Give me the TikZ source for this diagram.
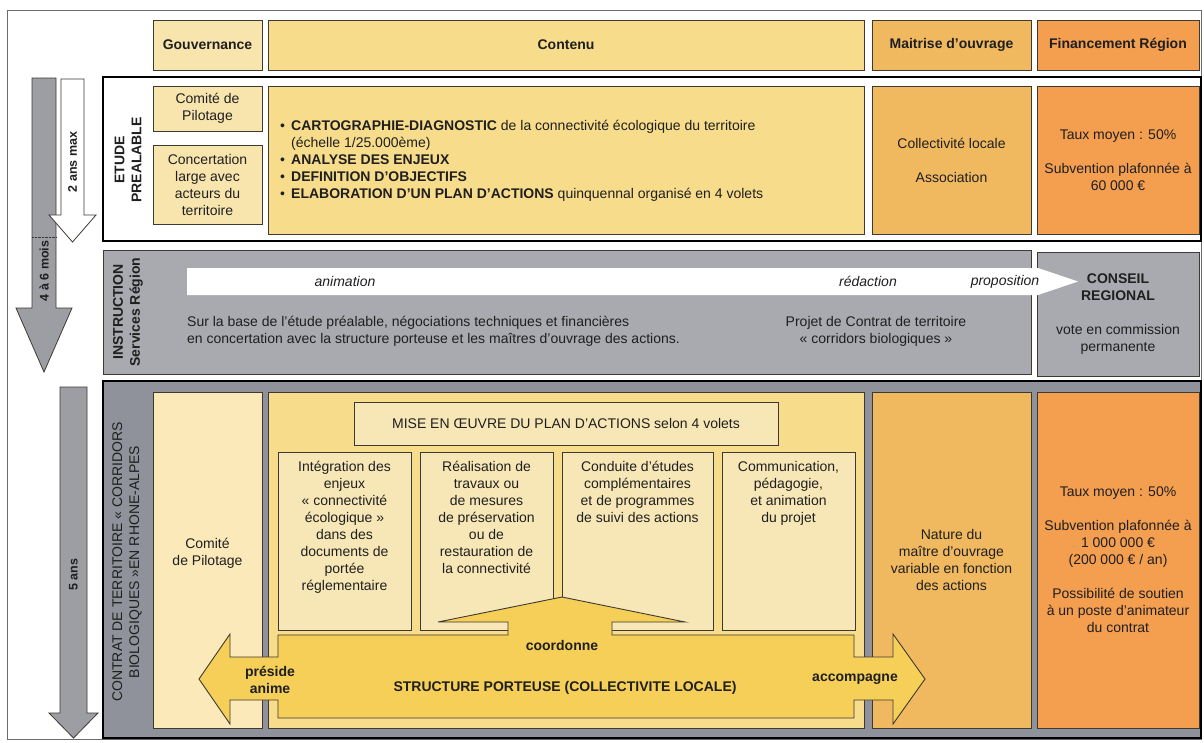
\documentclass[tikz,border=0pt]{standalone}
\usepackage{fontspec}
\setmainfont{Liberation Sans}
\usepackage{xcolor}
\usepackage{tikz}
\definecolor{cellink}{HTML}{3E3A33}
\definecolor{framegray}{HTML}{6B6B6B}
\definecolor{gouvfill}{HTML}{F8E5AE}
\definecolor{pilotfill}{HTML}{FBE9BA}
\definecolor{contfill}{HTML}{F7DC8B}
\definecolor{voletfill}{HTML}{F8E7B6}
\definecolor{maitfill}{HTML}{F0B960}
\definecolor{finfill}{HTML}{F49E50}
\definecolor{instgray}{HTML}{A8AAAF}
\definecolor{contratgray}{HTML}{8F929A}
\definecolor{arrowgray}{HTML}{9C9EA3}
\definecolor{arrowyellow}{HTML}{F5CF57}
\definecolor{inktext}{HTML}{1F1F1F}
\newcommand{\diagfont}{\fontsize{14}{17}\selectfont}
\newcommand{\timefont}{\fontsize{12.5}{15}\selectfont\bfseries}

\begin{document}
\begin{tikzpicture}[
        x=1pt, y=-1pt,
        font=\diagfont,
        text=inktext,
        cell/.style={
            rectangle,
            draw=cellink,
            line width=0.9pt,
            align=center,
            inner sep=2pt
        },
        band/.style={
            rectangle,
            draw=black,
            line width=1.6pt
        },
        txt/.style={align=center, inner sep=0pt},
        heavy/.style={font=\diagfont\bfseries},
        timelabel/.style={font=\timefont, inner sep=0pt, rotate=90},
        timearrow/.style={draw=cellink, line width=0.8pt, fill=arrowgray},
        bigarrow/.style={draw=cellink, line width=0.9pt, fill=arrowyellow}
    ]
        \useasboundingbox (0,0) rectangle (1204,742);
        \draw[framegray, line width=0.8pt] (7,10) rectangle (1201,739);

        \node[cell, fill=gouvfill, minimum width=109, minimum height=50] (gouvH) at (207.5,45) {\textbf{Gouvernance}};
        \node[cell, fill=contfill, minimum width=596, minimum height=50] (contH) at (566,45) {\textbf{Contenu}};
        \node[cell, fill=maitfill, minimum width=159, minimum height=50] (maitH) at (951.5,45) {\textbf{Maitrise d’ouvrage}};
        \node[cell, fill=finfill, minimum width=162, minimum height=50] (finH) at (1118,45) {\textbf{Financement Région}};

        \draw[timearrow] (32,78) -- (56,78) -- (56,308) -- (72,308) -- (44,372) -- (16,308) -- (32,308) -- cycle;
        \draw[cellink, densely dotted] (32,237) -- (56,237);
        \node[timelabel] (mois) at (44,271) {4 à 6 mois};
        \draw[timearrow, fill=white] (61,79) -- (84,79) -- (84,215) -- (96,215) -- (72.5,242) -- (49,215) -- (61,215) -- cycle;
        \node[timelabel] (deuxans) at (72.5,162) {2 ans max};
        \draw[timearrow] (60,387) -- (87,387) -- (87,713) -- (98,713) -- (73.5,738) -- (49,713) -- (60,713) -- cycle;
        \node[timelabel] (cinqans) at (73.5,575) {5 ans};

        \node[band, fill=white, minimum width=1098, minimum height=164] (etude) at (652,159) {};
        \node[txt, heavy, rotate=90] (etudeT) at (128,160) {ETUDE\\PREALABLE};
        \node[cell, fill=gouvfill, minimum width=109, minimum height=45] (comite1) at (207.5,108.5) {Comité de\\Pilotage};
        \node[cell, fill=gouvfill, minimum width=109, minimum height=79] (concert) at (207.5,184.5) {Concertation\\large avec\\acteurs du\\territoire};
        \node[cell, fill=contfill, minimum width=596, minimum height=148] (contenu1) at (566,160) {};
        \node[txt, anchor=west, align=left] (diag) at (280,161) {%
            \makebox[11pt][l]{•}\textbf{CARTOGRAPHIE-DIAGNOSTIC} de la connectivité écologique du territoire\\
            \hspace*{11pt}(échelle 1/25.000ème)\\
            \makebox[11pt][l]{•}\textbf{ANALYSE DES ENJEUX}\\
            \makebox[11pt][l]{•}\textbf{DEFINITION D’OBJECTIFS}\\
            \makebox[11pt][l]{•}\textbf{ELABORATION D’UN PLAN D’ACTIONS} quinquennal organisé en 4 volets};
        \node[cell, fill=maitfill, minimum width=159, minimum height=148] (maitre1) at (951.5,160) {Collectivité locale\\[17pt]Association};
        \node[cell, fill=finfill, minimum width=162, minimum height=148] (finance1) at (1118,160) {Taux moyen : 50\%\\[17pt]Subvention plafonnée à\\60 000 €};

        \node[cell, fill=instgray, minimum width=928, minimum height=124] (instr) at (567,312) {};
        \node[cell, fill=instgray, minimum width=162, minimum height=124] (conseil) at (1118,314) {\textbf{CONSEIL}\\\textbf{REGIONAL}\\[17pt]vote en commission\\permanente};
        \node[txt, heavy, rotate=90] (instrT) at (128,312) {INSTRUCTION\\Services Région};
        \fill[white] (187,268) -- (1038,268) -- (1078,281.5) -- (1038,295) -- (187,295) -- cycle;
        \node[txt, font=\diagfont\itshape] (anim) at (345,281.5) {animation};
        \node[txt, font=\diagfont\itshape] (redac) at (868,281.5) {rédaction};
        \node[txt, font=\diagfont\itshape] (propo) at (1005,281.5) {proposition};
        \node[txt, anchor=west, align=left] (negos) at (187,331) {Sur la base de l'étude préalable, négociations techniques et financières\\en concertation avec la structure porteuse et les maîtres d'ouvrage des actions.};
        \node[txt] (projet) at (876,331) {Projet de Contrat de territoire\\« corridors biologiques »};

        \node[band, fill=contratgray, minimum width=1098, minimum height=357] (contrat) at (652,559.5) {};
        \node[txt, rotate=90] (contratT) at (127,562) {CONTRAT DE TERRITOIRE « CORRIDORS\\BIOLOGIQUES »EN RHONE-ALPES};
        \node[cell, fill=pilotfill, minimum width=109, minimum height=336] (comite2) at (207.5,560) {};
        \node[txt] (comite2T) at (207.5,553) {Comité\\de Pilotage};
        \node[cell, fill=contfill, minimum width=596, minimum height=336] (contenu2) at (566,560) {};
        \node[cell, fill=maitfill, minimum width=159, minimum height=336] (maitre2) at (951.5,560) {Nature du\\maître d’ouvrage\\variable en fonction\\des actions};
        \node[cell, fill=finfill, minimum width=162, minimum height=336] (finance2) at (1118,560) {Taux moyen : 50\%\\[17pt]Subvention plafonnée à\\1 000 000 €\\(200 000 € / an)\\[17pt]Possibilité de soutien\\à un poste d’animateur\\du contrat};
        \node[cell, fill=voletfill, minimum width=424, minimum height=43] (plan) at (566,423.5) {MISE EN ŒUVRE DU PLAN D’ACTIONS selon 4 volets};
        \node[cell, fill=voletfill, minimum width=133, minimum height=178] (volet1) at (344.5,541) {};
        \node[cell, fill=voletfill, minimum width=133, minimum height=178] (volet2) at (486.5,541) {};
        \node[cell, fill=voletfill, minimum width=151, minimum height=178] (volet3) at (637.5,541) {};
        \node[cell, fill=voletfill, minimum width=133, minimum height=178] (volet4) at (788.5,541) {};
        \node[txt, anchor=north] (volet1T) at (344.5,461) {Intégration des\\enjeux\\« connectivité\\écologique »\\dans des\\documents de\\portée\\réglementaire};
        \node[txt, anchor=north] (volet2T) at (486.5,461) {Réalisation de\\travaux ou\\de mesures\\de préservation\\ou de\\restauration de\\la connectivité};
        \node[txt, anchor=north] (volet3T) at (637.5,461) {Conduite d’études\\complémentaires\\et de programmes\\de suivi des actions};
        \node[txt, anchor=north] (volet4T) at (788.5,461) {Communication,\\pédagogie,\\et animation\\du projet};

        \draw[bigarrow] (199,679) -- (230,634) -- (230,657) -- (278,657) -- (278,635) -- (508,635) -- (508,622)
            -- (438,622) -- (562,597) -- (685,622) -- (612,622) -- (612,635) -- (854,635) -- (854,657)
            -- (893,657) -- (893,634) -- (925,679) -- (893,724) -- (893,700) -- (854,700) -- (854,718)
            -- (278,718) -- (278,700) -- (230,700) -- (230,724) -- cycle;
        \node[txt, heavy] (coord) at (562,645) {coordonne};
        \node[txt, heavy] (preside) at (270,680) {préside\\anime};
        \node[txt, heavy] (porteuse) at (565,688) {STRUCTURE PORTEUSE (COLLECTIVITE LOCALE)};
        \node[txt, heavy] (accomp) at (855,679) {accompagne};
    \end{tikzpicture}
\end{document}
